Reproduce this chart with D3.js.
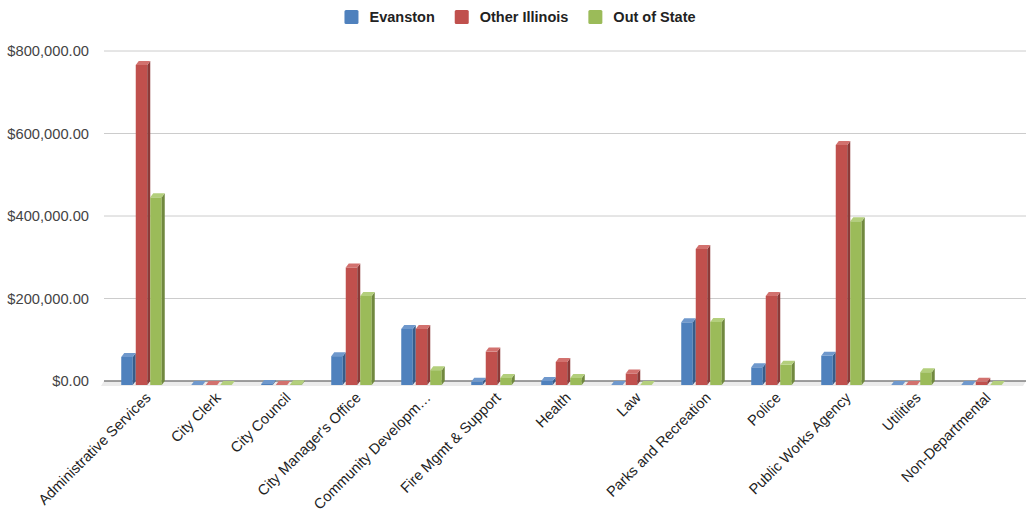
<!DOCTYPE html>
<html>
<head>
<meta charset="utf-8">
<title>Spending by vendor location</title>
<script src="https://d3js.org/d3.v7.min.js"></script>
<style>
  body { margin: 0; background: #fff; }
  text { font-family: "Liberation Sans", Arial, sans-serif; }
</style>
</head>
<body>
<svg width="1026" height="511"></svg>
<script>
// data
var departments = ["Administrative Services", "City Clerk", "City Council", "City Manager's Office",
  "Community Developm\u2026", "Fire Mgmt & Support", "Health", "Law", "Parks and Recreation",
  "Police", "Public Works Agency", "Utilities", "Non-Departmental"];
var seriesNames = ["Evanston", "Other Illinois", "Out of State"];
var evanston     = [68000, 0, 2500, 70000, 136000, 8000, 10000, 0, 152000, 43000, 71000, 0, 0];
var otherIllinois = [776000, 0, 0, 285000, 136000, 81000, 56000, 28000, 330000, 216000, 582000, 0, 8000];
var outOfState   = [455000, 0, 2000, 216000, 36000, 17000, 17000, 0, 153000, 49000, 397000, 31000, 0];
var yTicks = [0, 200000, 400000, 600000, 800000];

var colors = ["#4f81bd", "#c0504d", "#9bbb59"];
var sideColors = ["#385d8a", "#8c3a38", "#71893f"];
var topColors = ["#6f98cc", "#d2716e", "#b3cf7c"];

var svg = d3.select("svg");
var dx = 3, dy = 4;   // 3d depth
var left = 104, right = 1026;

var y = d3.scaleLinear().domain([0, 800000]).range([381, 51]);
var x0 = d3.scaleBand().domain(departments).range([108, 1018]);
var x1 = d3.scaleBand().domain(seriesNames).range([-21.75, 21.75]);

// gridlines
svg.append("g").selectAll("line").data(yTicks.slice(1)).join("line")
  .attr("x1", left).attr("x2", right)
  .attr("y1", function (d) { return y(d); }).attr("y2", function (d) { return y(d); })
  .attr("stroke", "#cccccc").attr("stroke-width", 1);

// y axis labels
var fmt = d3.format(",.2f");
svg.append("g").selectAll("text").data(yTicks).join("text")
  .attr("x", 89).attr("y", function (d) { return y(d); }).attr("dy", "0.35em")
  .attr("text-anchor", "end").attr("font-size", 14.7).attr("fill", "#444")
  .text(function (d) { return "$" + fmt(d); });

// floor
svg.append("path")
  .attr("d", "M" + left + "," + y(0) + "L" + right + "," + y(0) + "L" + (right - dx) + "," + (y(0) + dy + 1) +
    "L" + (left - dx) + "," + (y(0) + dy + 1) + "Z")
  .attr("fill", "#ebebeb");

// baseline
svg.append("line").attr("x1", left).attr("x2", right).attr("y1", y(0)).attr("y2", y(0))
  .attr("stroke", "#7f7f7f").attr("stroke-width", 1.5);

// bars
var rows = [];
departments.forEach(function (dep, i) {
  [evanston, otherIllinois, outOfState].forEach(function (arr, s) {
    rows.push({ dep: dep, s: s, v: arr[i] });
  });
});

var w = x1.bandwidth() - dx;
var bars = svg.append("g").selectAll("g").data(rows).join("g");
bars.each(function (d) {
  var g = d3.select(this);
  var xf = x0(d.dep) + x0.bandwidth() / 2 + x1(seriesNames[d.s]);
  var yt = y(d.v), yb = y(0);
  if (d.v > 0) {
    g.append("rect").attr("x", xf).attr("y", yt + dy).attr("width", w).attr("height", yb - yt)
      .attr("fill", colors[d.s]);
    g.append("path")
      .attr("d", "M" + (xf + w) + "," + (yt + dy) + "L" + (xf + w + dx) + "," + yt + "L" + (xf + w + dx) + "," + yb +
        "L" + (xf + w) + "," + (yb + dy) + "Z")
      .attr("fill", sideColors[d.s]);
  }
  g.append("path")
    .attr("d", "M" + xf + "," + (yt + dy) + "L" + (xf + dx) + "," + yt + "L" + (xf + w + dx) + "," + yt +
      "L" + (xf + w) + "," + (yt + dy) + "Z")
    .attr("fill", topColors[d.s]);
});

// x labels
svg.append("g").selectAll("text").data(departments).join("text")
  .attr("transform", function (d) {
    return "translate(" + (x0(d) + x0.bandwidth() / 2 + 5) + ",395) rotate(-45)";
  })
  .attr("text-anchor", "end").attr("dy", "0.35em").attr("font-size", 14.6).attr("fill", "#222")
  .text(function (d) { return d; });

// legend
var legend = svg.append("g");
var lx = 0;
seriesNames.forEach(function (name, i) {
  var item = legend.append("g").attr("transform", "translate(" + lx + ",0)");
  item.append("rect").attr("x", 0).attr("y", 10).attr("width", 14).attr("height", 14)
    .attr("rx", 1.5).attr("fill", colors[i]);
  var t = item.append("text").attr("x", 25).attr("y", 17).attr("dy", "0.35em")
    .attr("font-size", 14.5).attr("font-weight", "bold").attr("fill", "#222").text(name);
  lx += 25 + t.node().getComputedTextLength() + 20;
});
legend.attr("transform", "translate(" + (520 - (lx - 20) / 2) + ",0)");
</script>
</body>
</html>
